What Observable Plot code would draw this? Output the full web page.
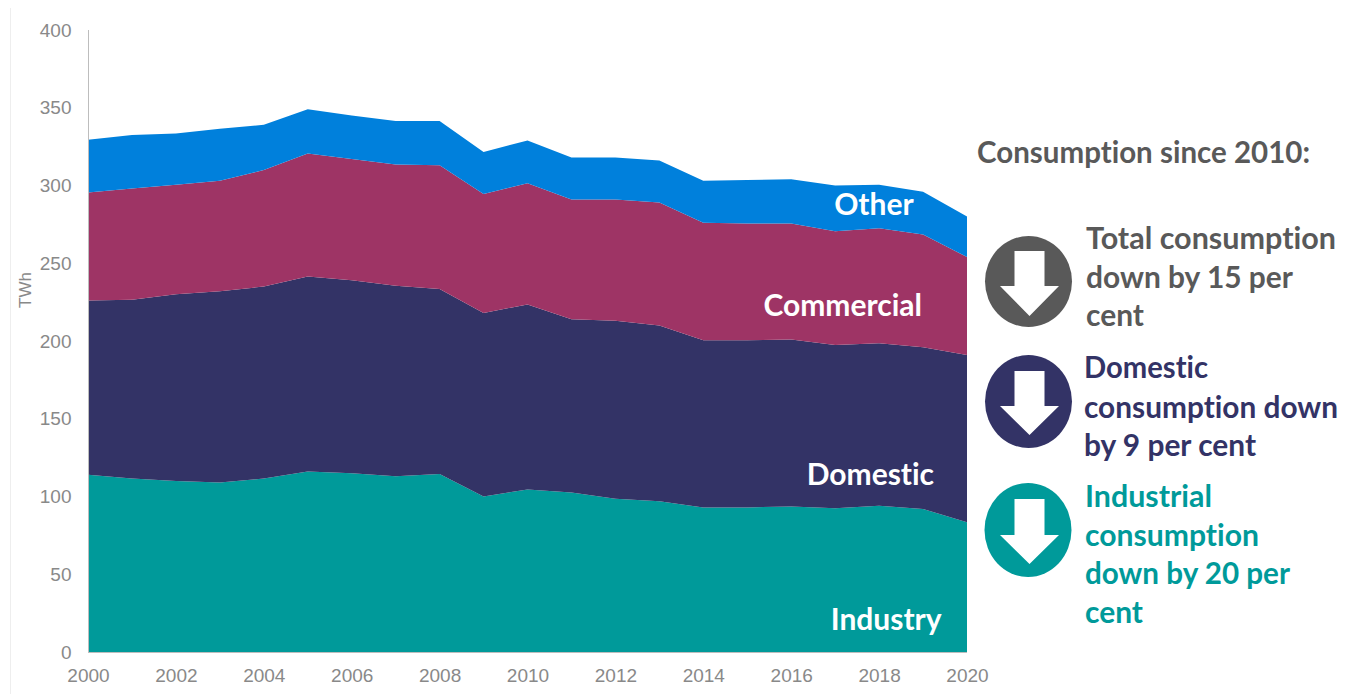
<!DOCTYPE html>
<html>
<head>
<meta charset="utf-8">
<style>
html,body{margin:0;padding:0;background:#fff;overflow:hidden;width:1350px;height:694px}
#wrap{position:relative;width:1350px;height:694px}
#wrap>svg{position:absolute;left:0;top:0;display:block}
text{font-variant-ligatures:none;font-feature-settings:"liga" 0}
</style>
<script src="https://cdn.jsdelivr.net/npm/d3@7"></script>
<script src="https://cdn.jsdelivr.net/npm/@observablehq/plot@0.6"></script>
</head>
<body>
<div id="wrap"></div>
<script>
const years = [2000,2001,2002,2003,2004,2005,2006,2007,2008,2009,2010,2011,2012,2013,2014,2015,2016,2017,2018,2019,2020];
const industry = [114,111.5,110,109,111.5,116,115,113,114.5,100,104.5,102.5,98.5,97,93,93,93.5,92.5,94,92,83.5];
const domestic = [112,115,120,123,123.5,125.5,124,122.5,119,118,119,111.5,114.5,113,107.5,107.5,107.5,105,104.5,104,107.5];
const commercial = [69.5,71.5,70.5,71,75,79,78,78,79.5,76.5,78,77,78,79,75.5,75,74.5,73,74,72.5,63];
const other = [34,34.5,33,33.5,29,28.5,28,28,28.5,27,27.5,27,27,27,27,28,28.5,29.5,28,27.5,26];
const seriesNames = ["Industry","Domestic","Commercial","Other"];
const seriesColors = ["#009a9a","#333366","#9e3465","#0080dc"];
const seriesValues = [industry,domestic,commercial,other];
const yTicks = [0,50,100,150,200,250,300,350,400];
const xTicks = [2000,2002,2004,2006,2008,2010,2012,2014,2016,2018,2020];
const areaLabels = [
  {name:"Other",year:2017.87,value:287.5},
  {name:"Commercial",year:2017.16,value:222.5},
  {name:"Domestic",year:2017.79,value:114},
  {name:"Industry",year:2018.15,value:20.5}
];
const rows = seriesNames.flatMap((name,i)=>years.map((year,j)=>({year,name,value:seriesValues[i][j]})));

const chart = Plot.plot({
  width:1350,height:694,
  marginLeft:88,marginRight:383,marginTop:30,marginBottom:42,
  style:{background:"transparent",fontFamily:"'Liberation Sans',Arial,sans-serif"},
  x:{domain:[2000,2020],label:null},
  y:{domain:[0,400],label:null},
  color:{domain:seriesNames,range:seriesColors},
  marks:[
    Plot.areaY(rows,{x:"year",y:"value",z:"name",fill:"name",order:seriesNames,curve:"linear"}),
    Plot.ruleX([2000],{stroke:"#bdbdbd",strokeWidth:1}),
    Plot.ruleY([0],{stroke:"#bdbdbd",strokeWidth:1}),
    Plot.axisX({ticks:xTicks,tickFormat:d=>String(d),tickSize:0,tickPadding:15.5,fontSize:19,fill:"#898989",textAnchor:"middle"}),
    Plot.axisY({ticks:yTicks,tickSize:0,tickPadding:17,fontSize:19,fill:"#898989",label:null}),
    Plot.text(areaLabels,{x:"year",y:"value",text:"name",fill:"white",fontSize:30,fontWeight:700,fontFamily:"Lato, sans-serif"})
  ]
});
document.getElementById("wrap").appendChild(chart);

const panelLines = [
  ["Consumption since 2010:",977,163,333,"#595959"],
  ["Total consumption",1086,249,250,"#595959"],
  ["down by 15 per",1086,288,207,"#595959"],
  ["cent",1086,326,58,"#595959"],
  ["Domestic",1084,378,124,"#333366"],
  ["consumption down",1084,418,254,"#333366"],
  ["by 9 per cent",1084,456,172,"#333366"],
  ["Industrial",1085,507,127,"#009a9a"],
  ["consumption",1085,546,174,"#009a9a"],
  ["down by 20 per",1085,584,205,"#009a9a"],
  ["cent",1085,623,58,"#009a9a"]
];
const badges = [
  {cx:1028.5,cy:281.5,ry:45.5,color:"#595959",top:251,shoulder:286,tip:316},
  {cx:1028.5,cy:401.5,ry:46.5,color:"#333366",top:371,shoulder:406,tip:435},
  {cx:1028,cy:530,ry:47,color:"#009a9a",top:499,shoulder:535,tip:564}
];
const overlay = d3.select("#wrap").append("svg").attr("width",1350).attr("height",694);
overlay.append("text").attr("transform","translate(31,290) rotate(-90)").attr("text-anchor","middle")
  .attr("font-family","'Liberation Sans',Arial,sans-serif").attr("font-size",17).attr("fill","#898989").text("TWh");
overlay.append("line").attr("x1",10.5).attr("x2",10.5).attr("y1",8).attr("y2",694).attr("stroke","#eeeeee");
for (const b of badges) {
  overlay.append("ellipse").attr("cx",b.cx).attr("cy",b.cy).attr("rx",43.5).attr("ry",b.ry).attr("fill",b.color);
  const c=1029.5;
  overlay.append("polygon").attr("fill","white")
    .attr("points",[[c-15,b.top],[c+15,b.top],[c+15,b.shoulder],[c+29.5,b.shoulder],[c,b.tip],[c-29.5,b.shoulder],[c-15,b.shoulder]].join(" "));
}
for (const [t,x,y,w,c] of panelLines) {
  overlay.append("text").attr("x",x).attr("y",y).attr("textLength",w).attr("lengthAdjust","spacingAndGlyphs")
    .attr("font-family","Lato, sans-serif").attr("font-weight",700).attr("font-size",30).attr("fill",c).text(t);
}
</script>
</body>
</html>
